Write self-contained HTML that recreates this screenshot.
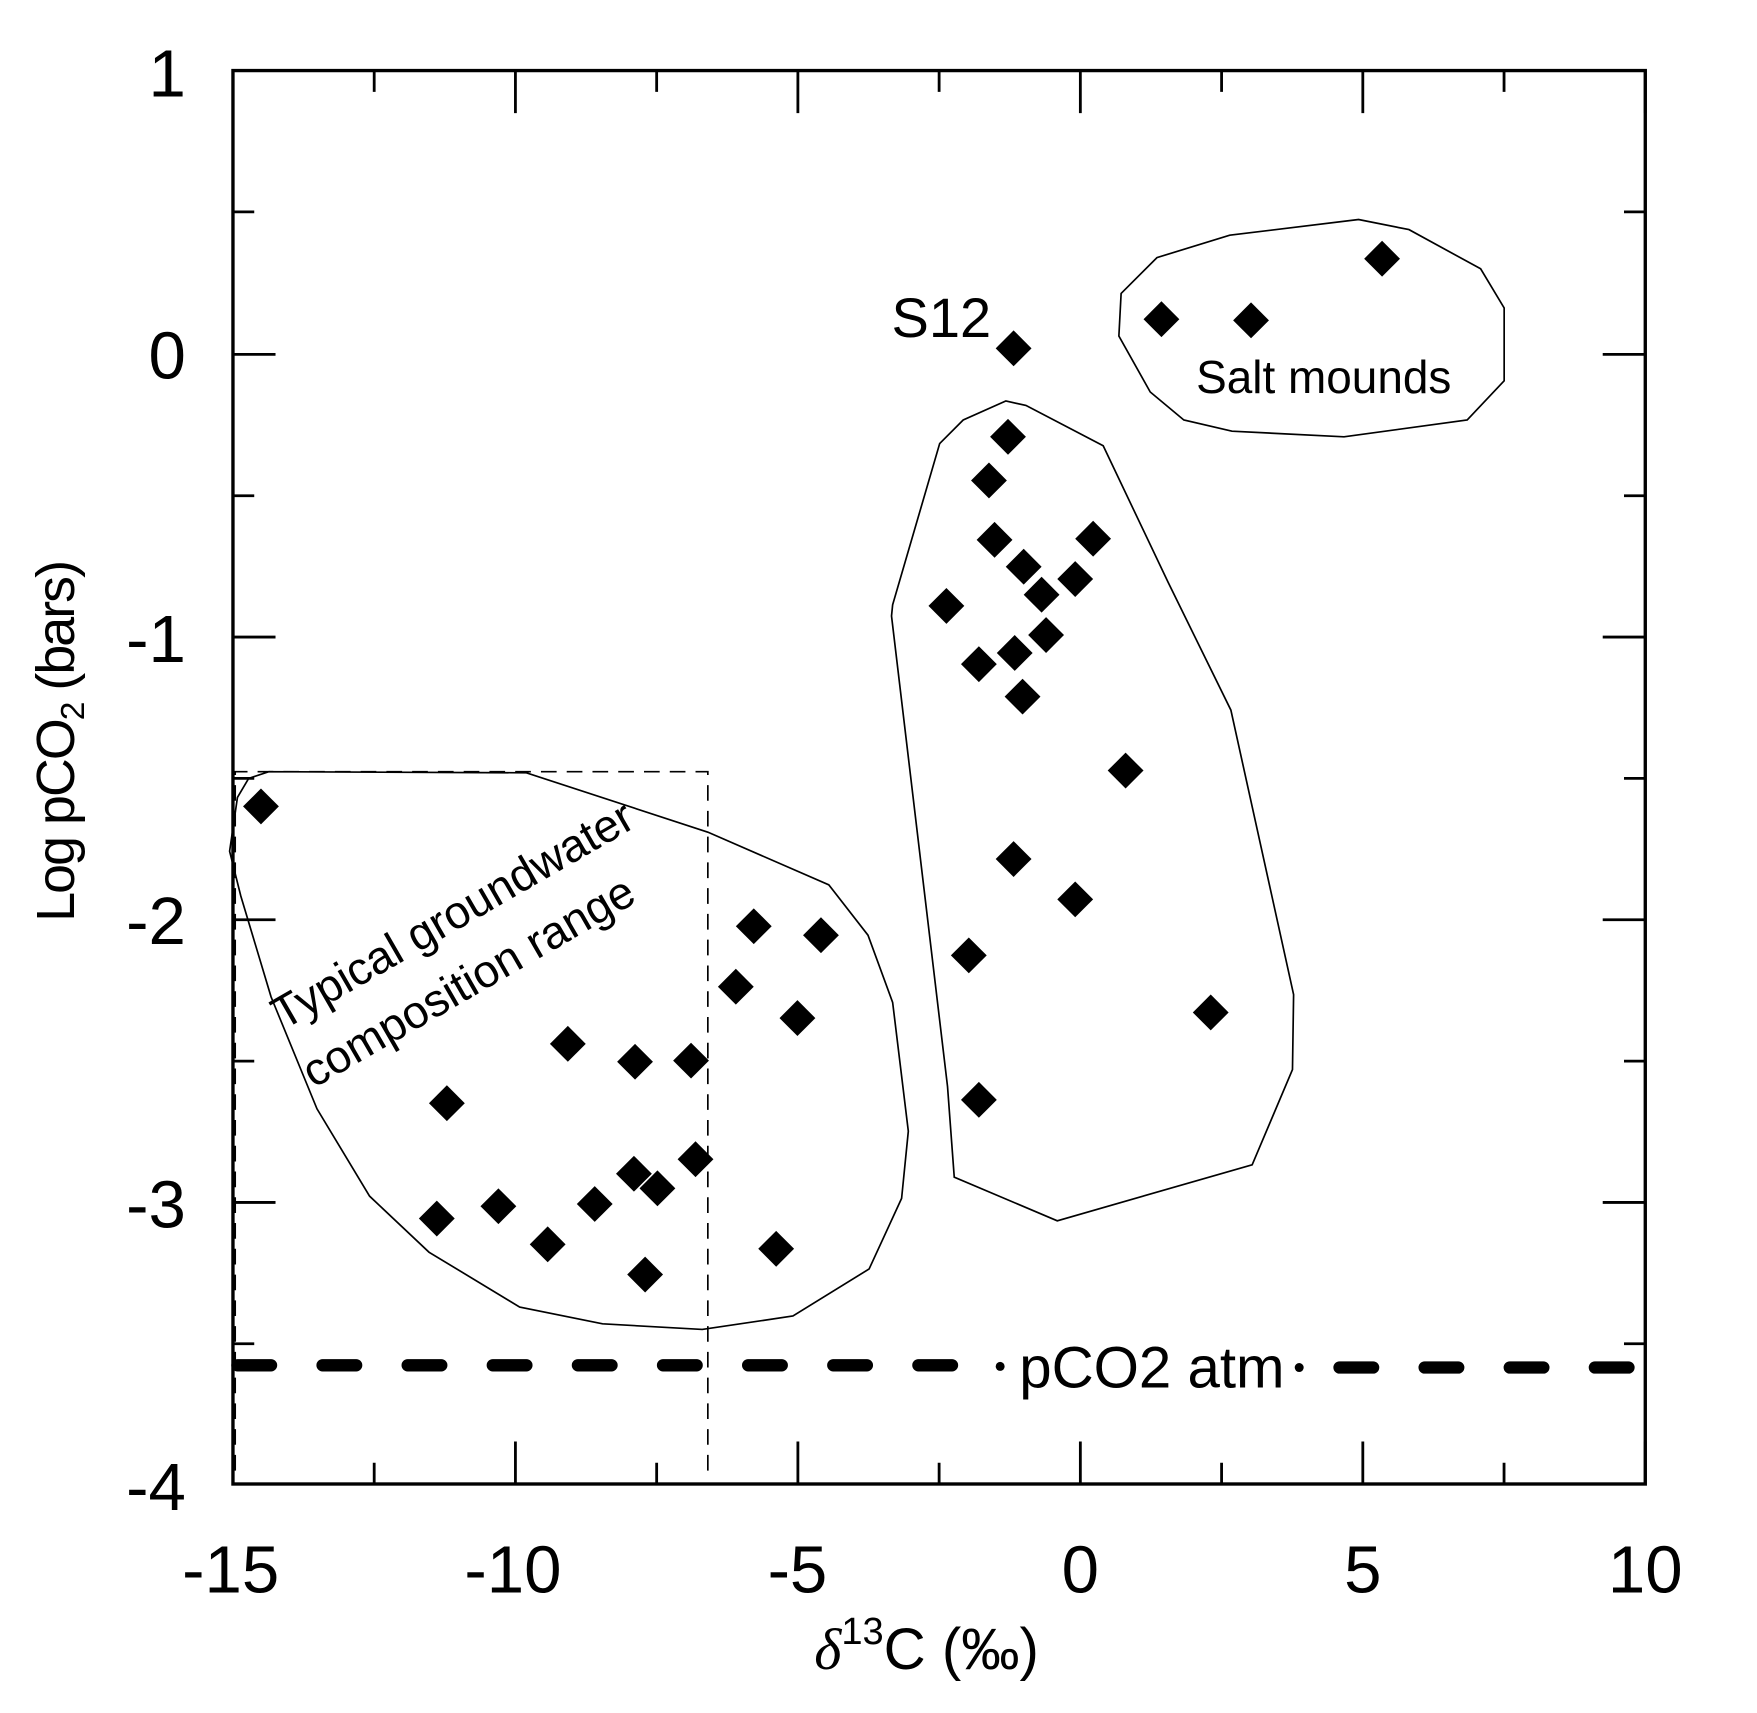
<!DOCTYPE html>
<html><head><meta charset="utf-8"><style>
html,body{margin:0;padding:0;background:#fff;}
svg{display:block;}
text{font-family:"Liberation Sans",Arial,sans-serif;fill:#000;}
</style></head><body>
<svg width="1757" height="1713" viewBox="0 0 1568.75 1529.46" xmlns="http://www.w3.org/2000/svg">
<rect x="0" y="0" width="1568.75" height="1529.46" fill="#fff"/>
<rect x="208" y="63" width="1261" height="1262" fill="none" stroke="#000" stroke-width="3"/>
<g stroke="#000" stroke-width="2.5">
<path d="M208 1325v-38M460.2 1325v-38M712.4 1325v-38M964.6 1325v-38M1216.8 1325v-38M1469 1325v-38"/>
<path d="M208 63v38M460.2 63v38M712.4 63v38M964.6 63v38M1216.8 63v38M1469 63v38"/>
<path d="M334.1 1325v-19M586.3 1325v-19M838.5 1325v-19M1090.7 1325v-19M1342.9 1325v-19"/>
<path d="M334.1 63v19M586.3 63v19M838.5 63v19M1090.7 63v19M1342.9 63v19"/>
<path d="M208 316.4h38M208 568.8h38M208 821.2h38M208 1073.6h38"/>
<path d="M1469 316.4h-38M1469 568.8h-38M1469 821.2h-38M1469 1073.6h-38"/>
<path d="M208 189.2h19M208 442.6h19M208 695h19M208 947.4h19M208 1199.8h19"/>
<path d="M1469 189.2h-19M1469 442.6h-19M1469 695h-19M1469 947.4h-19M1469 1199.8h-19"/>
</g>
<g font-size="60" text-anchor="end">
<text x="166" y="86">1</text>
<text x="166" y="338">0</text>
<text x="166" y="591">-1</text>
<text x="166" y="843">-2</text>
<text x="166" y="1096">-3</text>
<text x="166" y="1348">-4</text>
</g>
<g font-size="60" text-anchor="middle">
<text x="206" y="1422">-15</text>
<text x="458" y="1422">-10</text>
<text x="712" y="1422">-5</text>
<text x="964.6" y="1422">0</text>
<text x="1216.8" y="1422">5</text>
<text x="1469" y="1422">10</text>
</g>
<text font-size="48" transform="translate(66,823) rotate(-90)" textLength="323">Log pCO<tspan font-size="30" dy="9">2</tspan><tspan dy="-9"> (bars)</tspan></text>
<text x="727" y="1490" font-size="52"><tspan font-family="'Liberation Serif',serif" font-style="italic">δ</tspan><tspan font-size="34" dy="-22">13</tspan><tspan dy="22">C (‰)</tspan></text>
<path d="M210 1313V689H632V1313" fill="none" stroke="#000" stroke-width="1.5" stroke-dasharray="14,9"/>
<g fill="none" stroke="#000" stroke-width="1.5">
<polygon points="205,760 212,712 222,695 240,689 470,690 632,743 740,790 775,835 797,895 811,1010 805,1070 776,1133 708,1175 627,1187 538,1182 464,1167 383,1118 330,1068 283,990 242,890 215,800"/>
<polygon points="898,358 916,362 985,398 1043,520 1099,634 1155,888 1154,955 1118,1040 944,1090 852,1051 846,970 796,550 797,540 839,396 860,375"/>
<polygon points="1001,262 1033,230 1098,210 1213,196 1258,205 1322,240 1343,275 1343,340 1310,375 1200,390 1100,385 1057,375 1027,350 999,300"/>
</g>
<g stroke="#000" stroke-width="11" stroke-linecap="round">
<path d="M212 1219H882" stroke-dasharray="30,46"/>
<path d="M1196 1221H1464" stroke-dasharray="30,46"/>
</g>
<circle cx="893" cy="1220" r="4"/>
<circle cx="1160" cy="1221" r="4"/>
<text x="910" y="1239" font-size="52">pCO2 atm</text>
<text x="796" y="301" font-size="50">S12</text>
<text x="1068" y="351" font-size="41">Salt mounds</text>
<text font-size="41" transform="translate(253,920) rotate(-30)" textLength="365" lengthAdjust="spacingAndGlyphs">Typical groundwater</text>
<text font-size="41" transform="translate(280,972) rotate(-30)" textLength="335" lengthAdjust="spacingAndGlyphs">composition range</text>
<g fill="#000">
<path d="M0 -16L16 0L0 16L-16 0Z" transform="translate(233,720)"/>
<path d="M0 -16L16 0L0 16L-16 0Z" transform="translate(399,985)"/>
<path d="M0 -16L16 0L0 16L-16 0Z" transform="translate(390,1088)"/>
<path d="M0 -16L16 0L0 16L-16 0Z" transform="translate(445,1077)"/>
<path d="M0 -16L16 0L0 16L-16 0Z" transform="translate(489,1111)"/>
<path d="M0 -16L16 0L0 16L-16 0Z" transform="translate(507,932)"/>
<path d="M0 -16L16 0L0 16L-16 0Z" transform="translate(531,1075)"/>
<path d="M0 -16L16 0L0 16L-16 0Z" transform="translate(567,948)"/>
<path d="M0 -16L16 0L0 16L-16 0Z" transform="translate(566,1048)"/>
<path d="M0 -16L16 0L0 16L-16 0Z" transform="translate(587,1061)"/>
<path d="M0 -16L16 0L0 16L-16 0Z" transform="translate(576,1138)"/>
<path d="M0 -16L16 0L0 16L-16 0Z" transform="translate(617,947)"/>
<path d="M0 -16L16 0L0 16L-16 0Z" transform="translate(621,1035)"/>
<path d="M0 -16L16 0L0 16L-16 0Z" transform="translate(657,881)"/>
<path d="M0 -16L16 0L0 16L-16 0Z" transform="translate(673,827)"/>
<path d="M0 -16L16 0L0 16L-16 0Z" transform="translate(733,835)"/>
<path d="M0 -16L16 0L0 16L-16 0Z" transform="translate(712,909)"/>
<path d="M0 -16L16 0L0 16L-16 0Z" transform="translate(693,1115)"/>
<path d="M0 -16L16 0L0 16L-16 0Z" transform="translate(905,311)"/>
<path d="M0 -16L16 0L0 16L-16 0Z" transform="translate(900,390)"/>
<path d="M0 -16L16 0L0 16L-16 0Z" transform="translate(883,429)"/>
<path d="M0 -16L16 0L0 16L-16 0Z" transform="translate(888,482)"/>
<path d="M0 -16L16 0L0 16L-16 0Z" transform="translate(914,506)"/>
<path d="M0 -16L16 0L0 16L-16 0Z" transform="translate(845,541)"/>
<path d="M0 -16L16 0L0 16L-16 0Z" transform="translate(930,531)"/>
<path d="M0 -16L16 0L0 16L-16 0Z" transform="translate(960,517)"/>
<path d="M0 -16L16 0L0 16L-16 0Z" transform="translate(976,481)"/>
<path d="M0 -16L16 0L0 16L-16 0Z" transform="translate(934,567)"/>
<path d="M0 -16L16 0L0 16L-16 0Z" transform="translate(906,583)"/>
<path d="M0 -16L16 0L0 16L-16 0Z" transform="translate(874,593)"/>
<path d="M0 -16L16 0L0 16L-16 0Z" transform="translate(913,622)"/>
<path d="M0 -16L16 0L0 16L-16 0Z" transform="translate(1005,688)"/>
<path d="M0 -16L16 0L0 16L-16 0Z" transform="translate(905,767)"/>
<path d="M0 -16L16 0L0 16L-16 0Z" transform="translate(960,803)"/>
<path d="M0 -16L16 0L0 16L-16 0Z" transform="translate(865,853)"/>
<path d="M0 -16L16 0L0 16L-16 0Z" transform="translate(874,982)"/>
<path d="M0 -16L16 0L0 16L-16 0Z" transform="translate(1081,904)"/>
<path d="M0 -16L16 0L0 16L-16 0Z" transform="translate(1037,285)"/>
<path d="M0 -16L16 0L0 16L-16 0Z" transform="translate(1117,286)"/>
<path d="M0 -16L16 0L0 16L-16 0Z" transform="translate(1234,231)"/>
</g>
</svg>
</body></html>
